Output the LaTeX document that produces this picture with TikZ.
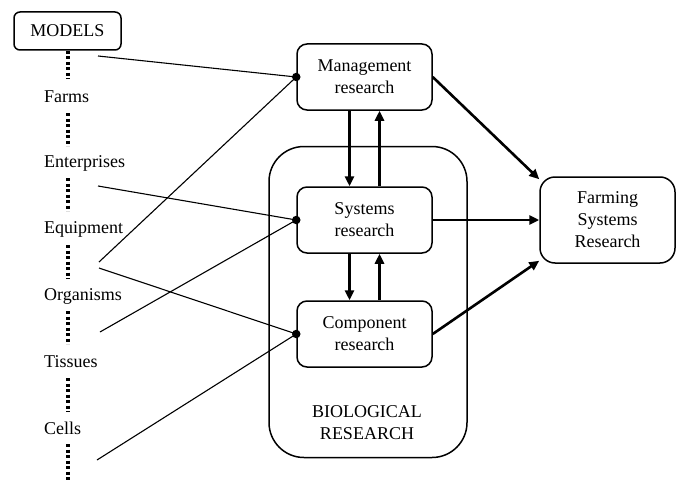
\documentclass[tikz,border=0pt]{standalone}
\usepackage{fontspec}
\setmainfont{Liberation Serif}
\usetikzlibrary{arrows.meta}
\begin{document}
\begin{tikzpicture}[x=1pt,y=-1pt,
  every node/.style={font=\fontsize{18}{22}\selectfont},
  rbox/.style={draw,line width=1.5pt,rounded corners=10pt,minimum width=135pt,minimum height=66pt,align=center,inner sep=0pt},
  lab/.style={anchor=west,inner sep=0pt},
  thinline/.style={line width=1.1pt},
  bigarrow/.style={line width=2.6pt,-{Triangle[length=10pt,width=9pt]}},
  dotline/.style={line width=3.5pt,dash pattern=on 3pt off 2.5pt},
  junction/.style={circle,fill,inner sep=0pt,minimum size=8.5pt}]

\useasboundingbox (0,0) rectangle (680,487);

% MODELS and levels
\node[draw,line width=1.5pt,rounded corners=6pt,minimum width=107pt,minimum height=38pt,inner sep=0pt] (models) at (67.5,31) {MODELS};
\node[lab] (farms) at (44,97) {Farms};
\node[lab] (ent) at (44,163) {Enterprises};
\node[lab] (equip) at (44,229) {Equipment};
\node[lab] (org) at (44,296) {Organisms};
\node[lab] (tis) at (44,362) {Tissues};
\node[lab] (cells) at (44,428) {Cells};

\draw[dotline] (68,51) -- (68,79);
\draw[dotline] (68,113) -- (68,146);
\draw[dotline] (68,178) -- (68,211);
\draw[dotline] (68,245) -- (68,279);
\draw[dotline] (68,311) -- (68,344);
\draw[dotline] (68,378) -- (68,412);
\draw[dotline] (68,444) -- (68,481);

% Biological research frame
\node[draw,line width=1.5pt,rounded corners=35pt,minimum width=198pt,minimum height=311pt,inner sep=0pt] (bio) at (368,302) {};
\node[align=center,inner sep=0pt] (biotext) at (367,423) {BIOLOGICAL\\RESEARCH};

% research boxes
\node[rbox] (mgmt) at (364.5,77) {Management\\research};
\node[rbox] (sys) at (364.5,220) {Systems\\research};
\node[rbox] (comp) at (364.5,334) {Component\\research};
\node[rbox,rounded corners=15pt,minimum height=86pt] (fsr) at (607.5,220) {Farming\\Systems\\Research};

% vertical arrows
\draw[bigarrow] ([xshift=-15pt]mgmt.south) -- ([xshift=-15pt]sys.north);
\draw[bigarrow] ([xshift=15pt]sys.north) -- ([xshift=15pt]mgmt.south);
\draw[bigarrow] ([xshift=-15pt]sys.south) -- ([xshift=-15pt]comp.north);
\draw[bigarrow] ([xshift=15pt]comp.north) -- ([xshift=15pt]sys.south);

% arrows to farming systems research
\draw[bigarrow] (mgmt.east) -- ([yshift=-3pt]fsr.north west);
\draw[bigarrow] (sys.east) -- (fsr.west);
\draw[bigarrow] (comp.east) -- ([yshift=3pt]fsr.south west);

% junctions
\node[junction] (jm) at (mgmt.west) {};
\node[junction] (js) at (sys.west) {};
\node[junction] (jc) at (comp.west) {};

% free ends of model links
\coordinate (a1) at (98,56);
\coordinate (a2) at (99,262);
\coordinate (a3) at (98,186);
\coordinate (a4) at (100,332);
\coordinate (a5) at (99,268);
\coordinate (a6) at (97,460);

\draw[thinline] (a1) -- (jm.center);
\draw[thinline] (a2) -- (jm.center);
\draw[thinline] (a3) -- (js.center);
\draw[thinline] (a4) -- (js.center);
\draw[thinline] (a5) -- (jc.center);
\draw[thinline] (a6) -- (jc.center);
\end{tikzpicture}
\end{document}
